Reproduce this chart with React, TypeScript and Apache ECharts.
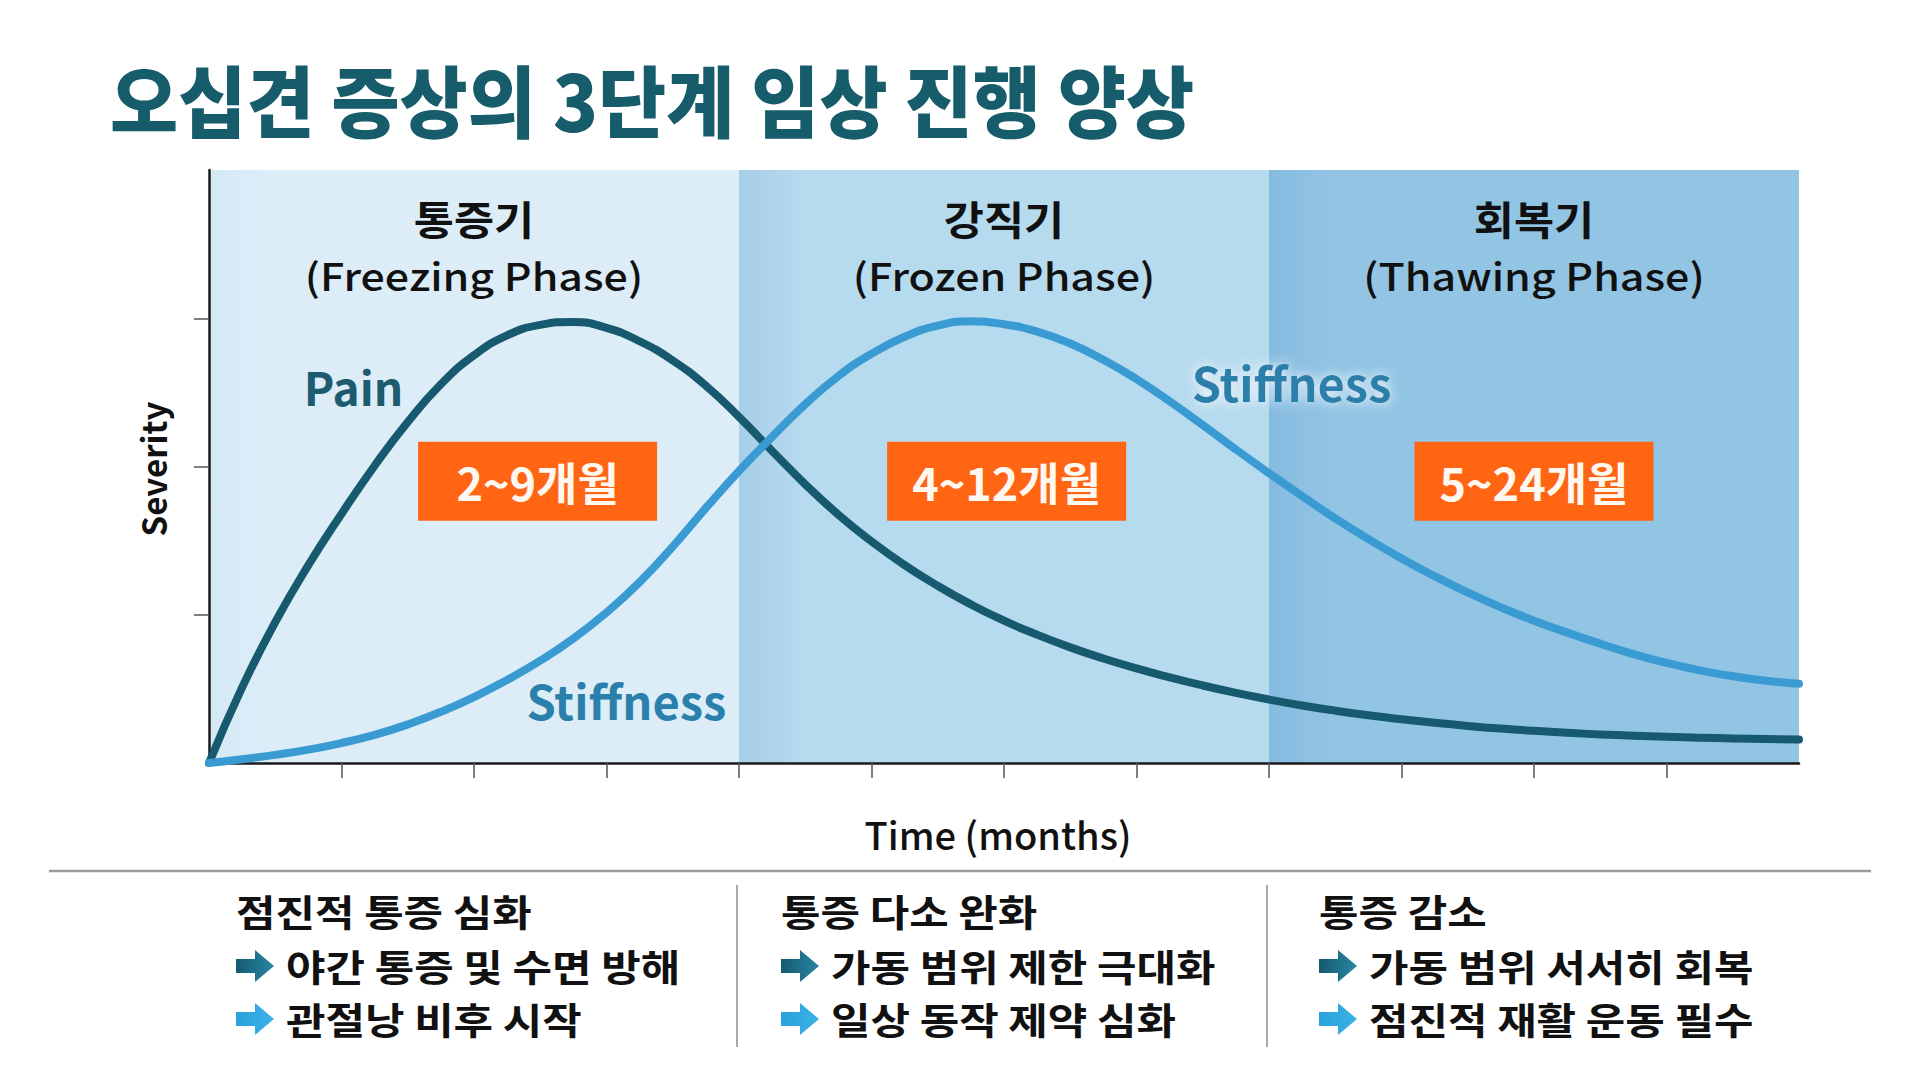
import React, { useEffect, useRef } from "react";
import * as echarts from "echarts";

// ---- data ----
const months = [
  0, 0.25, 0.5, 0.75, 1, 1.25, 1.5, 1.75, 2, 2.25, 2.5, 2.75, 3, 3.25, 3.5, 3.75, 4, 4.25, 4.5, 4.75, 5, 5.25, 5.5, 5.75,
  6, 6.25, 6.5, 6.75, 7, 7.25, 7.5, 7.75, 8, 8.25, 8.5, 8.75, 9, 9.25, 9.5, 9.75, 10, 10.25, 10.5, 10.75, 11, 11.25, 11.5,
  11.75, 12,
];
const painSeverity = [
  0, 0.51, 0.95, 1.335, 1.68, 2.005, 2.3, 2.555, 2.75, 2.885, 2.955, 2.975, 2.935, 2.845, 2.715, 2.545, 2.335, 2.105,
  1.88, 1.675, 1.495, 1.335, 1.195, 1.07, 0.96, 0.865, 0.78, 0.705, 0.638, 0.578, 0.523, 0.473, 0.428, 0.388, 0.353,
  0.322, 0.295, 0.271, 0.25, 0.232, 0.217, 0.204, 0.193, 0.184, 0.177, 0.171, 0.166, 0.162, 0.159,
];
const stiffnessSeverity = [
  0, 0.025, 0.055, 0.09, 0.135, 0.19, 0.26, 0.345, 0.445, 0.56, 0.69, 0.84, 1.015, 1.22, 1.46, 1.72, 1.97, 2.2, 2.42,
  2.61, 2.76, 2.875, 2.95, 2.98, 2.96, 2.91, 2.83, 2.72, 2.59, 2.44, 2.28, 2.115, 1.955, 1.8, 1.65, 1.51, 1.38, 1.26,
  1.15, 1.05, 0.96, 0.88, 0.805, 0.735, 0.675, 0.625, 0.585, 0.555, 0.535,
];

const phaseNames = ["통증기", "강직기", "회복기"];
const phaseNamesEn = ["(Freezing Phase)", "(Frozen Phase)", "(Thawing Phase)"];
const phaseStart = [0, 4, 8];
const phaseEnd = [4, 8, 12];
const phaseCenter = [2, 6, 10];
const phaseDurations = ["2~9개월", "4~12개월", "5~24개월"];
const durationX = [2.48, 6.02, 10];

const xTickMonths = [1, 2, 3, 4, 5, 6, 7, 8, 9, 10, 11];
const yTickLevels = [1, 2, 3];

const summaryHeads = ["점진적 통증 심화", "통증 다소 완화", "통증 감소"];
const summaryItems = [
  ["야간 통증 및 수면 방해", "관절낭 비후 시작"],
  ["가동 범위 제한 극대화", "일상 동작 제약 심화"],
  ["가동 범위 서서히 회복", "점진적 재활 운동 필수"],
];

// anchors (data space) for texts inside the plot
const headKoY = 3.683;
const headEnY = 3.292;
const badgeY = 1.9;
const painLabelPos = [1.09, 2.54];
const stiffLowLabelPos = [3.15, 0.43];
const stiffHighLabelPos = [8.17, 2.57];

const FONT = "'Noto Sans CJK KR', 'Noto Sans', sans-serif";
const PAIN_COLOR = "#17596e";
const STIFF_COLOR = "#3a9bd3";
const STIFF_TEXT = "#2a7fab";
const TITLE_COLOR = "#175c6b";

const bandColors = [
  ["#d5e9f5", "#dcedf8"],
  ["#a7cee8", "#b6daee"],
  ["#86bbe0", "#92c4e4"],
];

function bandFill(i: number) {
  const [a, b] = bandColors[i];
  return new echarts.graphic.LinearGradient(0, 0, 1, 0, [
    { offset: 0, color: a },
    { offset: 0.12, color: b },
    { offset: 1, color: b },
  ]);
}

function arrowShape(x: number, y: number, colors: [string, string]) {
  return {
    type: "polygon",
    x,
    y,
    shape: {
      points: [
        [0, -7],
        [19, -7],
        [19, -16],
        [38, 0],
        [19, 16],
        [19, 7],
        [0, 7],
      ],
    },
    style: {
      fill: new echarts.graphic.LinearGradient(0, 0, 1, 0, [
        { offset: 0, color: colors[0] },
        { offset: 1, color: colors[1] },
      ]),
    },
  };
}

function buildGraphics() {
  const g: any[] = [];
  // title
  g.push({
    type: "text",
    x: 110,
    y: 98,
    scaleX: 0.95,
    style: {
      text: "오십견 증상의 3단계 임상 진행 양상",
      fill: TITLE_COLOR,
      font: `900 78px ${FONT}`,
      verticalAlign: "middle",
      align: "left",
    },
  });
  // axis names
  g.push({
    type: "text",
    x: 153,
    y: 469,
    rotation: Math.PI / 2,
    style: {
      text: "Severity",
      fill: "#111",
      font: `600 33px ${FONT}`,
      align: "center",
      verticalAlign: "middle",
    },
  });
  g.push({
    type: "text",
    x: 998,
    y: 833,
    style: {
      text: "Time (months)",
      fill: "#111",
      font: `500 38px ${FONT}`,
      align: "center",
      verticalAlign: "middle",
    },
  });
  // separators
  g.push({
    type: "line",
    shape: { x1: 49, y1: 871, x2: 1871, y2: 871 },
    style: { stroke: "#9c9c9c", lineWidth: 2.5 },
  });
  [737, 1267].forEach((x) =>
    g.push({
      type: "line",
      shape: { x1: x, y1: 885, x2: x, y2: 1047 },
      style: { stroke: "#8c8c8c", lineWidth: 1.5 },
    })
  );
  // summary columns
  const colX = [236, 781, 1319];
  const rowY = [911, 966, 1019];
  const arrowColors: [string, string][] = [
    ["#145a70", "#2a86a4"],
    ["#2aa2dc", "#3bb0e6"],
  ];
  summaryHeads.forEach((head, c) => {
    g.push({
      type: "text",
      x: colX[c],
      y: rowY[0],
      scaleX: 1.16,
      style: {
        text: head,
        fill: "#111",
        font: `700 37px ${FONT}`,
        verticalAlign: "middle",
      },
    });
    summaryItems[c].forEach((item, r) => {
      g.push(arrowShape(colX[c], rowY[r + 1], arrowColors[r]));
      g.push({
        type: "text",
        x: colX[c] + 50,
        y: rowY[r + 1],
        scaleX: 1.16,
        style: {
          text: item,
          fill: "#111",
          font: `700 37px ${FONT}`,
          verticalAlign: "middle",
        },
      });
    });
  });
  return g;
}

// phase headings, placed through the grid's own coordinate conversion
function buildPhaseHeads(chart: echarts.ECharts) {
  const g: any[] = [];
  phaseCenter.forEach((x, i) => {
    const ko = chart.convertToPixel({ gridIndex: 0 }, [x, headKoY]) as number[];
    const en = chart.convertToPixel({ gridIndex: 0 }, [x, headEnY]) as number[];
    g.push({
      type: "text",
      x: ko[0],
      y: ko[1],
      scaleX: 1.09,
      z: 10,
      style: {
        text: phaseNames[i],
        fill: "#111",
        font: `700 40px ${FONT}`,
        align: "center",
        verticalAlign: "middle",
      },
    });
    g.push({
      type: "text",
      x: en[0],
      y: en[1],
      scaleX: 1.13,
      z: 10,
      style: {
        text: phaseNamesEn[i],
        fill: "#111",
        font: `500 38px ${FONT}`,
        align: "center",
        verticalAlign: "middle",
      },
    });
  });
  return g;
}

function textPoint(pos: number[], text: string, style: any) {
  return {
    value: pos,
    label: { show: true, position: "inside", formatter: text, fontFamily: FONT, ...style },
  };
}

export default function App() {
  const ref = useRef<HTMLDivElement>(null);

  useEffect(() => {
    if (!ref.current) return;
    const chart = echarts.init(ref.current, undefined, { renderer: "svg" });

    const painData = months.map((m, i) => [m, painSeverity[i]]);
    const stiffData = months.map((m, i) => [m, stiffnessSeverity[i]]);

    const clear = { color: "rgba(0,0,0,0)", opacity: 1 };
    const baseGraphics = buildGraphics();

    const option: any = {
      animation: false,
      backgroundColor: "#ffffff",
      textStyle: { fontFamily: FONT },
      grid: { left: 209, top: 170, width: 1590, height: 593 },
      xAxis: {
        type: "value",
        min: 0,
        max: 12,
        interval: 1,
        z: 1,
        axisLine: { show: true, onZero: false, lineStyle: { color: "#1a1a1a", width: 2.5 } },
        axisTick: {
          show: true,
          length: 15,
          customValues: xTickMonths,
          lineStyle: { color: "#555", width: 1.5 },
        },
        axisLabel: { show: false },
        splitLine: { show: true, lineStyle: { color: "rgba(90,120,150,0.3)", width: 1 } },
      },
      yAxis: {
        type: "value",
        min: 0,
        max: 4,
        interval: 1,
        z: 1,
        axisLine: { show: true, onZero: false, lineStyle: { color: "#1a1a1a", width: 2.5 } },
        axisTick: {
          show: true,
          length: 15,
          customValues: yTickLevels,
          lineStyle: { color: "#555", width: 1.5 },
        },
        axisLabel: { show: false },
        splitLine: { show: true, lineStyle: { color: "rgba(90,120,150,0.3)", width: 1 } },
      },
      series: [
        {
          name: "phases",
          type: "line",
          z: 0,
          data: [[0, 0]],
          showSymbol: false,
          lineStyle: { opacity: 0 },
          silent: true,
          markArea: {
            silent: true,
            data: phaseStart.map((s, i) => [
              { xAxis: s, itemStyle: { color: bandFill(i), opacity: 1 } },
              { xAxis: phaseEnd[i] },
            ]),
          },
        },
        {
          name: "Pain",
          type: "line",
          z: 3,
          smooth: 0.5,
          showSymbol: false,
          data: painData,
          lineStyle: { color: PAIN_COLOR, width: 8, cap: "round", join: "round" },
        },
        {
          name: "Stiffness",
          type: "line",
          z: 3,
          smooth: 0.5,
          showSymbol: false,
          data: stiffData,
          lineStyle: { color: STIFF_COLOR, width: 8, cap: "round", join: "round" },
        },
        {
          name: "durations",
          type: "scatter",
          z: 6,
          silent: true,
          symbol: "rect",
          symbolSize: [239, 79],
          itemStyle: { color: "#ff6512", opacity: 1 },
          data: durationX.map((x, i) =>
            textPoint([x, badgeY], phaseDurations[i], { fontSize: 45, fontWeight: 700, color: "#fff8f0" })
          ),
        },
        {
          name: "curve names",
          type: "scatter",
          z: 6,
          silent: true,
          symbolSize: 1,
          itemStyle: clear,
          data: [
            textPoint(painLabelPos, "Pain", { color: "#1d5b6f", fontSize: 46, fontWeight: 600 }),
            textPoint(stiffLowLabelPos, "Stiffness", { color: STIFF_TEXT, fontSize: 47, fontWeight: 600 }),
            textPoint(stiffHighLabelPos, "Stiffness", {
              color: STIFF_TEXT,
              fontSize: 47,
              fontWeight: 600,
              textShadowColor: "rgba(255,255,255,0.95)",
              textShadowBlur: 12,
            }),
          ],
        },
      ],
      graphic: baseGraphics,
    };

    chart.setOption(option);
    chart.setOption({ graphic: [...baseGraphics, ...buildPhaseHeads(chart)] });
    return () => chart.dispose();
  }, []);

  return (
    <div
      ref={ref}
      style={{ position: "fixed", left: 0, top: 0, width: 1920, height: 1071, background: "#fff" }}
    />
  );
}
